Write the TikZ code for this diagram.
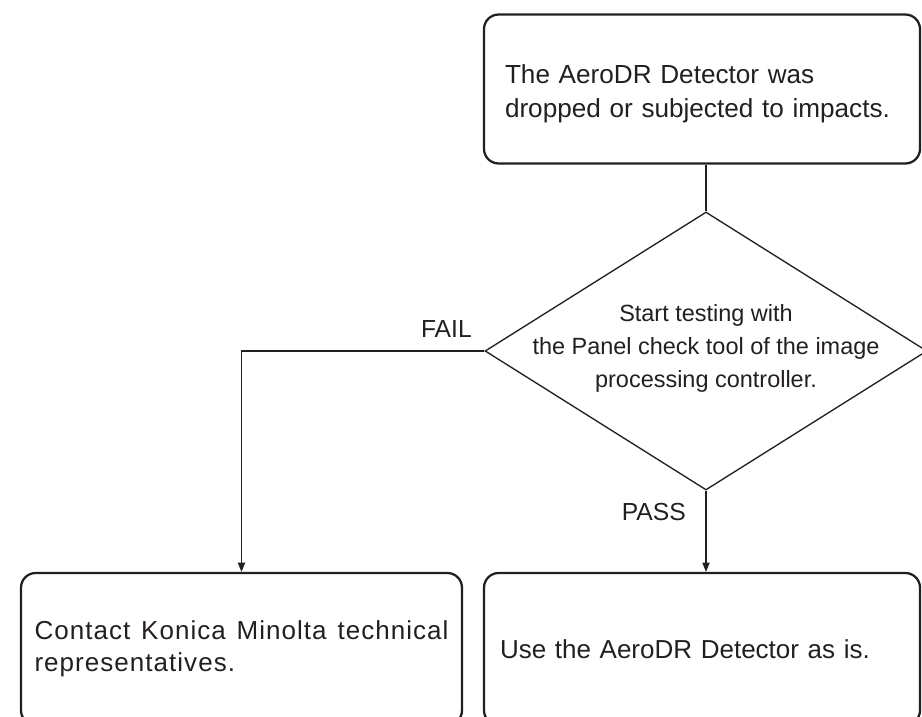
\documentclass[tikz,border=0pt]{standalone}
\usepackage{fontspec}
\setmainfont{Liberation Sans}
\usepackage{xcolor}
\usepackage{tikz}
\usetikzlibrary{shapes.geometric,arrows.meta}
\definecolor{ink}{RGB}{35,31,32}

\begin{document}
\begin{tikzpicture}[x=0.75pt,y=-0.75pt,
  box/.style={draw=ink, line width=1.7pt, rounded corners=11pt, inner ysep=0pt,
    text=ink, font=\fontsize{19.5}{24}\selectfont},
  link/.style={draw=ink, line width=0.8pt},
  arr/.style={link, -{Triangle[length=7pt,width=5.5pt]}},
  lbl/.style={text=ink, inner sep=0pt, font=\fontsize{18.5}{22}\selectfont}]
\clip (0,0) rectangle (922,717);

\node[box, minimum width=327pt, minimum height=111.75pt, inner xsep=15.75pt,
  text width=295.5pt, text height=22pt, align=left,
  font=\fontsize{19.6}{25.5}\selectfont] (top) at (702,89)
  {The AeroDR Detector was\\dropped or subjected to impacts.};

\node[diamond, draw=ink, line width=1pt, minimum width=331.5pt,
  minimum height=208.5pt, inner sep=0pt] (test) at (706,351) {};
\node[lbl, align=center, font=\fontsize{17.6}{24.75}\selectfont] (testtext) at (706,348)
  {Start testing with\\the Panel check tool of the image\\processing controller.};

\node[box, minimum width=330.75pt, minimum height=114pt, inner xsep=10.125pt,
  text width=310.5pt, align=justify,
  font=\fontsize{19.5}{24}\selectfont\addfontfeature{LetterSpace=4}] (fail) at (241.5,649)
  {Contact Konica Minolta technical representatives.};
\node[box, minimum width=327pt, minimum height=114pt, inner xsep=12pt,
  text width=303pt, align=left] (pass) at (702,649)
  {Use the AeroDR Detector as is.};

\draw[link] (test.north) -- (test.north |- top.south);
\draw[arr] (test.west) -| (fail.north);
\draw[arr] (test.south) -- (test.south |- pass.north);

\node[lbl, anchor=base east] (faillbl) at (472,337) {FAIL};
\node[lbl, anchor=base east] (passlbl) at (686,520) {PASS};

\end{tikzpicture}
\end{document}
